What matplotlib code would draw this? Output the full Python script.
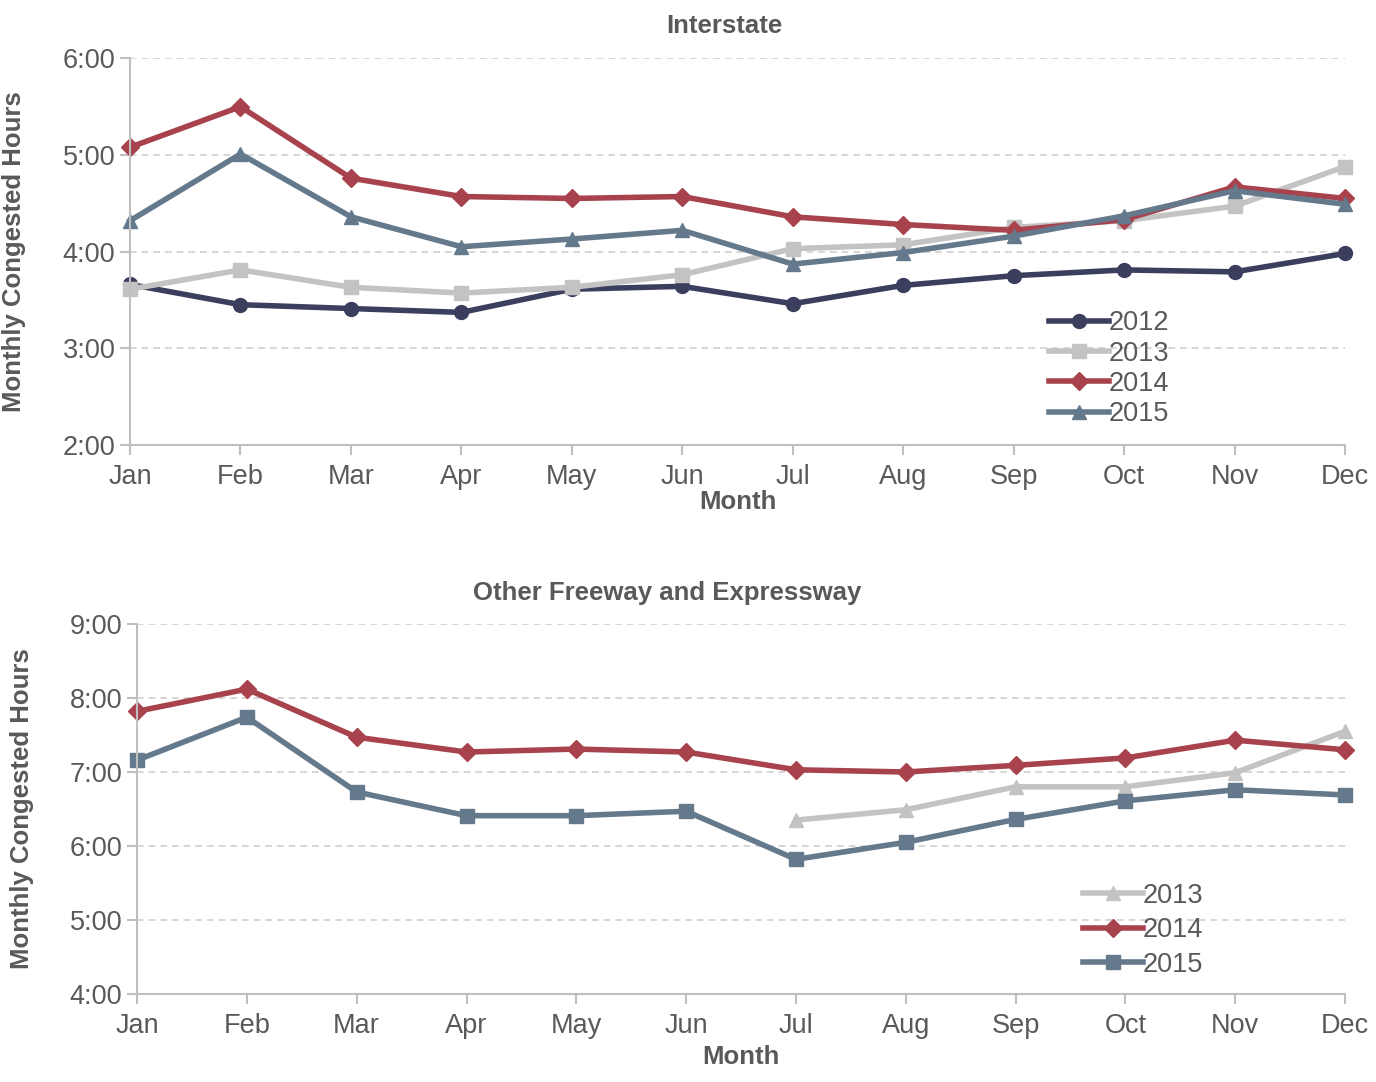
"""Monthly congested hours: Interstate vs other freeway/expressway."""

import matplotlib
matplotlib.use("Agg")
import matplotlib.pyplot as plt
from matplotlib.ticker import FuncFormatter

plt.rcParams["font.family"] = ["Liberation Sans", "DejaVu Sans"]

months = ["Jan", "Feb", "Mar", "Apr", "May", "Jun",
          "Jul", "Aug", "Sep", "Oct", "Nov", "Dec"]

# Interstate (hours, decimal)
inter_2012 = [3.66, 3.45, 3.41, 3.37, 3.61, 3.64, 3.46, 3.65, 3.75, 3.81, 3.79, 3.98]
inter_2013 = [3.61, 3.81, 3.63, 3.57, 3.63, 3.76, 4.03, 4.07, 4.25, 4.32, 4.47, 4.88]
inter_2014 = [5.08, 5.50, 4.76, 4.57, 4.55, 4.57, 4.36, 4.28, 4.22, 4.33, 4.67, 4.55]
inter_2015 = [4.32, 5.01, 4.36, 4.05, 4.13, 4.22, 3.87, 3.99, 4.16, 4.37, 4.63, 4.49]

# Other freeway and expressway
other_2013 = [None, None, None, None, None, None, 6.35, 6.49, 6.80, 6.80, 6.99, 7.55]
other_2014 = [7.82, 8.12, 7.47, 7.27, 7.31, 7.27, 7.03, 7.00, 7.09, 7.19, 7.43, 7.30]
other_2015 = [7.16, 7.74, 6.73, 6.41, 6.41, 6.47, 5.82, 6.05, 6.36, 6.61, 6.76, 6.69]

C2012 = "#3c3e5e"
C2013 = "#c3c3c3"
C2014 = "#a8434e"
C2015 = "#64798c"
TEXT = "#595959"
AXIS = "#bfbfbf"


def hmm(v, pos):
    h = int(v)
    m = int(round((v - h) * 60))
    return f"{h}:{m:02d}"


def style_axis(ax, ylim, title, title_pad, title_x, xlabel_pad):
    x = range(len(months))
    ax.set_xlim(0, len(months) - 1)
    ax.set_ylim(*ylim)
    ax.set_yticks(range(ylim[0], ylim[1] + 1))
    ax.yaxis.set_major_formatter(FuncFormatter(hmm))
    ax.set_xticks(list(x))
    ax.set_xticklabels(months)
    ax.grid(axis="y", color="#d0d0d0", linestyle=(0, (4, 3)), linewidth=1.2)
    ax.set_axisbelow(True)
    for side in ("top", "right"):
        ax.spines[side].set_visible(False)
    for side in ("left", "bottom"):
        ax.spines[side].set_color(AXIS)
        ax.spines[side].set_linewidth(1.5)
    ax.tick_params(axis="both", colors=AXIS, labelcolor=TEXT, labelsize=19.5,
                   length=7, width=1.5)
    ax.tick_params(axis="x", pad=7)
    ax.set_xlabel("Month", fontsize=18.5, fontweight="bold", color=TEXT,
                  labelpad=xlabel_pad)
    ax.set_ylabel("Monthly Congested Hours", fontsize=18.5, fontweight="bold",
                  color=TEXT, labelpad=26)
    ax.set_title(title, fontsize=18.5, fontweight="bold", color=TEXT,
                 pad=title_pad, x=title_x)


fig = plt.figure(figsize=(13.76, 10.82), dpi=100)

ax1 = fig.add_axes([0.0945, 0.589, 0.883, 0.357])
x = range(len(months))
ax1.plot(x, inter_2012, color=C2012, lw=4, marker="o", ms=10, label="2012", clip_on=False)
ax1.plot(x, inter_2013, color=C2013, lw=4, marker="s", ms=10, label="2013", clip_on=False)
ax1.plot(x, inter_2014, color=C2014, lw=4, marker="D", ms=9, label="2014", clip_on=False)
ax1.plot(x, inter_2015, color=C2015, lw=4, marker="^", ms=10, label="2015", clip_on=False)
style_axis(ax1, (2, 6), "Interstate", 18, 0.489, 0)
ax1.legend(loc="upper left", bbox_to_anchor=(0.743, 0.39), frameon=False,
           fontsize=19.5, handlelength=2.2, handletextpad=0.0, labelspacing=0.16,
           borderpad=0.1, labelcolor=TEXT)

ax2 = fig.add_axes([0.0996, 0.0813, 0.8779, 0.342])
ax2.plot(x, other_2013, color=C2013, lw=4, marker="^", ms=10, label="2013", clip_on=False)
ax2.plot(x, other_2014, color=C2014, lw=4, marker="D", ms=9, label="2014", clip_on=False)
ax2.plot(x, other_2015, color=C2015, lw=4, marker="s", ms=10, label="2015", clip_on=False)
style_axis(ax2, (4, 9), "Other Freeway and Expressway", 17, 0.439, 4)
ax2.legend(loc="upper left", bbox_to_anchor=(0.77, 0.345), frameon=False,
           fontsize=19.5, handlelength=2.2, handletextpad=0.0, labelspacing=0.32,
           borderpad=0.1, labelcolor=TEXT)

fig.savefig("out.png", dpi=100)
